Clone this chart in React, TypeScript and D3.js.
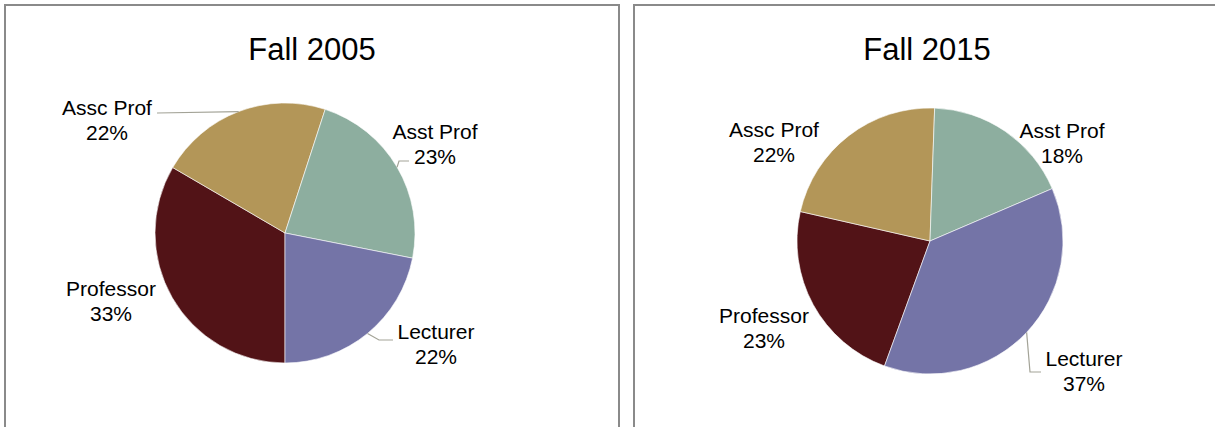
import React from 'react';
import * as d3 from 'd3';

// ---- data ----
const categories = ['Professor', 'Assc Prof', 'Asst Prof', 'Lecturer'];
const fall2005Values = [33.4, 21.6, 23.1, 21.9];
const fall2015Values = [23, 22, 18, 37];
const chartTitles = ['Fall 2005', 'Fall 2015'];
const sliceColors = ['#521317', '#B39658', '#8DAE9F', '#7474A7'];

// ---- layout (styles/positions, not data) ----
type Pt = [number, number];
interface ChartCfg {
  title: string;
  values: number[];
  panelX: number;
  titleX: number;
  cx: number;
  cy: number;
  r: number;
  startDeg: number;
  labelOffsets: Pt[]; // block centre relative to pie centre
  leaders: (Pt[] | null)[]; // extra points relative to pie centre after arc mid-point
}

const charts: ChartCfg[] = [
  {
    title: chartTitles[0],
    values: fall2005Values,
    panelX: 5,
    titleX: 312,
    cx: 285,
    cy: 233,
    r: 130,
    startDeg: 180,
    labelOffsets: [
      [-174, 68],
      [-178, -113],
      [150, -89],
      [151, 111],
    ],
    leaders: [
      null,
      [[-128, -120]],
      [[114, -72], [124, -72]],
      [[94, 107], [108, 107]],
    ],
  },
  {
    title: chartTitles[1],
    values: fall2015Values,
    panelX: 634,
    titleX: 927,
    cx: 930,
    cy: 241,
    r: 133,
    startDeg: 200,
    labelOffsets: [
      [-166, 87],
      [-156, -99],
      [132, -98],
      [154, 130],
    ],
    leaders: [null, null, null, [[100, 131], [111, 131]]],
  },
];

const FONT = "'Liberation Sans', Arial, Helvetica, sans-serif";

function PieChart({ cfg }: { cfg: ChartCfg }) {
  const start = (cfg.startDeg * Math.PI) / 180;
  const pie = d3
    .pie<number>()
    .sort(null)
    .value((d) => d)
    .startAngle(start)
    .endAngle(start + 2 * Math.PI);
  const arcs = pie(cfg.values);
  const arc = d3.arc<d3.PieArcDatum<number>>().innerRadius(0).outerRadius(cfg.r);
  const total = d3.sum(cfg.values);
  const line = d3.line<Pt>();

  return (
    <g>
      <rect
        x={cfg.panelX}
        y={5}
        width={614}
        height={460}
        fill="#fff"
        stroke="#8a8a8a"
        strokeWidth={2}
      />
      <text
        x={cfg.titleX}
        y={60}
        textAnchor="middle"
        fontFamily={FONT}
        fontSize={31}
        fill="#000"
      >
        {cfg.title}
      </text>
      <g transform={`translate(${cfg.cx},${cfg.cy})`}>
        {arcs.map((a, i) => (
          <path key={i} d={arc(a) || ''} fill={sliceColors[i]} stroke="#ffffff" strokeWidth={0.6} />
        ))}
        {arcs.map((a, i) => {
          const extra = cfg.leaders[i];
          if (!extra) return null;
          const mid = (a.startAngle + a.endAngle) / 2;
          const p0: Pt = [cfg.r * Math.sin(mid), -cfg.r * Math.cos(mid)];
          return (
            <path
              key={'l' + i}
              d={line([p0, ...extra]) || ''}
              fill="none"
              stroke="#a3a397"
              strokeWidth={1.2}
            />
          );
        })}
        {arcs.map((a, i) => {
          const [dx, dy] = cfg.labelOffsets[i];
          const pct = Math.round((a.value / total) * 100) + '%';
          return (
            <text
              key={'t' + i}
              x={dx}
              textAnchor="middle"
              fontFamily={FONT}
              fontSize={21}
              fill="#000"
            >
              <tspan x={dx} y={dy - 5}>
                {categories[i]}
              </tspan>
              <tspan x={dx} y={dy + 20}>
                {pct}
              </tspan>
            </text>
          );
        })}
      </g>
    </g>
  );
}

export default function App() {
  return (
    <svg
      width={1215}
      height={427}
      viewBox="0 0 1215 427"
      style={{ position: 'absolute', left: 0, top: 0, display: 'block', background: '#fff' }}
    >
      <rect x={0} y={0} width={1215} height={427} fill="#fff" />
      {charts.map((c, i) => (
        <PieChart key={i} cfg={c} />
      ))}
    </svg>
  );
}
